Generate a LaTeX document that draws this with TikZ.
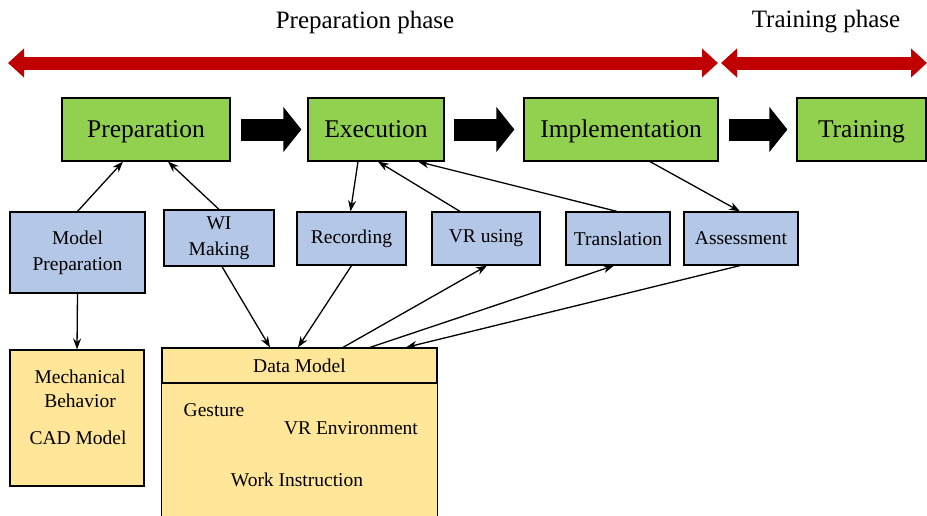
\documentclass[tikz,border=0pt]{standalone}
\usepackage{fontspec}
\setmainfont{Liberation Serif}
\usetikzlibrary{arrows.meta}
\definecolor{gfill}{HTML}{92D050}
\definecolor{bfill}{HTML}{B4C7E7}
\definecolor{yfill}{HTML}{FFE699}
\definecolor{rarrow}{HTML}{C00000}
\tikzset{
  phase/.style={font=\fontsize{25}{28}\selectfont, inner sep=0pt},
  greenbox/.style={draw=black, line width=1.2pt, fill=gfill, minimum height=63pt, inner sep=0pt, text height=17pt, text depth=2pt, font=\fontsize{25.5}{28}\selectfont},
  bluebox/.style={draw=black, line width=1.2pt, fill=bfill, minimum height=53pt, inner sep=0pt, align=center, font=\fontsize{19.5}{26}\selectfont},
  yellowbox/.style={draw=black, line width=1.2pt, fill=yfill, inner sep=0pt},
  ytext/.style={inner sep=0pt, font=\fontsize{19.5}{24}\selectfont},
  conn/.style={line width=1.3pt, -{Stealth[length=11pt,width=8pt]}},
  blockarrow/.style={line width=22pt, -{Triangle[length=18pt,width=44pt]}},
  redarrow/.style={rarrow, line width=13pt, {Triangle[length=16pt,width=28pt]}-{Triangle[length=16pt,width=28pt]}},
}
\begin{document}
\begin{tikzpicture}[x=1pt,y=-1pt]
\useasboundingbox (0,0) rectangle (927,515);
% phase labels
\node[phase] (pp) at (365,22) {Preparation phase};
\node[phase] (tp) at (826,22) {Training phase};
\coordinate (r1l) at (8,63);
\coordinate (r1r) at (718,63);
\coordinate (r2l) at (721,63);
\coordinate (r2r) at (927,63);
\draw[redarrow] (r1l) -- (r1r);
\draw[redarrow] (r2l) -- (r2r);
% green boxes
\node[greenbox, minimum width=168pt] (prep) at (146,129.5) {Preparation};
\node[greenbox, minimum width=136pt] (exec) at (376,129.5) {Execution};
\node[greenbox, minimum width=194pt] (impl) at (621,129.5) {Implementation};
\node[greenbox, minimum width=129pt] (train) at (861.5,129.5) {Training};
\draw[blockarrow, shorten <=10pt, shorten >=6pt] (prep.east) -- (exec.west);
\draw[blockarrow, shorten <=9pt, shorten >=9pt] (exec.east) -- (impl.west);
\draw[blockarrow, shorten <=10pt, shorten >=9pt] (impl.east) -- (train.west);
% blue boxes
\node[bluebox, minimum width=135pt, minimum height=81pt] (mp) at (77.5,252.5) {Model\\Preparation};
\node[bluebox, minimum width=110pt, minimum height=56pt] (wi) at (219,238) {WI\\Making};
\node[bluebox, minimum width=109pt] (rec) at (351.5,238.5) {Recording};
\node[bluebox, minimum width=108pt] (vr) at (486,238.5) {VR using};
\node[bluebox, minimum width=104pt] (tr) at (618,238.5) {Translation};
\node[bluebox, minimum width=114pt] (as) at (741,238.5) {Assessment};
% yellow boxes
\node[yellowbox, minimum width=134pt, minimum height=136pt] (mech) at (77,418) {};
\node[ytext] (mechA) at (80,377) {Mechanical};
\node[ytext] (mechB) at (80,401) {Behavior};
\node[ytext] (cad) at (78,438) {CAD Model};
\node[yellowbox, minimum width=275pt, minimum height=35pt, font=\fontsize{19.5}{24}\selectfont] (dm) at (299.5,365.5) {Data Model};
\fill[yfill] (dm.south west) rectangle ([yshift=-140pt]dm.south east);
\draw[line width=1.2pt] (dm.south west) -- ++(0,140);
\draw[line width=1.2pt] (dm.south east) -- ++(0,140);
\node[ytext] (gest) at (214,410) {Gesture};
\node[ytext] (vrenv) at (351,428) {VR Environment};
\node[ytext] (wins) at (297,480) {Work Instruction};
% connectors
\draw[conn] (mp.north) -- ([xshift=-23pt]prep.south);
\draw[conn] (wi.north) -- ([xshift=22pt]prep.south);
\draw[conn] ([xshift=-18pt]exec.south) -- ([xshift=-1pt]rec.north);
\draw[conn] ([xshift=-26pt]vr.north) -- ([xshift=2pt]exec.south);
\draw[conn] ([xshift=-1pt]tr.north) -- ([xshift=42pt]exec.south);
\draw[conn] ([xshift=29pt]impl.south) -- ([xshift=-1pt]as.north);
\draw[conn] ([xshift=3pt]wi.south) -- ([xshift=-29.5pt]dm.north);
\draw[conn] (rec.south) -- ([xshift=-1.5pt]dm.north);
\draw[conn] ([xshift=43.5pt]dm.north) -- ([xshift=1pt]vr.south);
\draw[conn] ([xshift=70.5pt]dm.north) -- ([xshift=-4pt]tr.south);
\draw[conn] ([xshift=-1pt]as.south) -- ([xshift=106.5pt]dm.north);
\draw[conn] (mp.south) -- (mech.north);
\end{tikzpicture}
\end{document}
